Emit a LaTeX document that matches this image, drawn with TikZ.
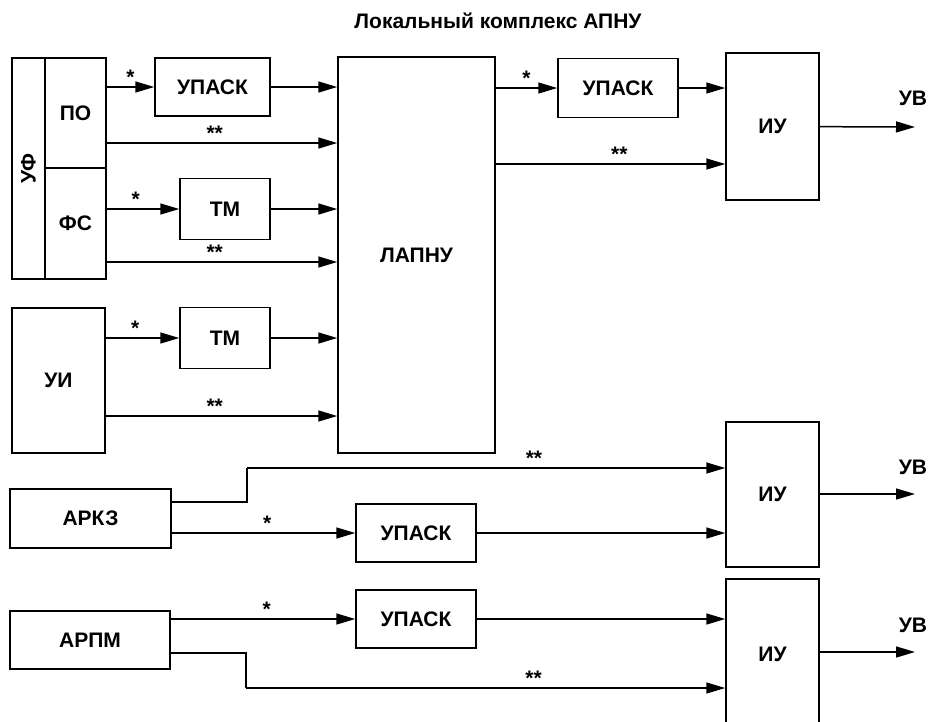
\documentclass[tikz,border=0pt]{standalone}
\usepackage{fontspec}
\setmainfont{Liberation Sans}
\usetikzlibrary{arrows.meta}

\tikzset{
  blk/.style={draw, line width=1.5pt, inner sep=0pt, align=center},
  arr/.style={line width=1.5pt, -{Triangle[length=19pt,width=11pt]}},
  ln/.style={line width=1.5pt},
  starlbl/.style={above, inner sep=2pt}
}

\begin{document}
\begin{tikzpicture}[x=1pt, y=-1pt, font=\bfseries\fontsize{21}{25}\selectfont]
	\useasboundingbox (0,0) rectangle (930,721);
	\node (title) at (498,21) {Локальный комплекс АПНУ};

	% left column
	\node (uf) at (28.5,168.5) [blk, rotate=90, minimum width=221pt, minimum height=33pt] {УФ};
	\node (po) at (75.5,113) [blk, minimum width=61pt, minimum height=110pt] {ПО};
	\node (fs) at (75.5,223.5) [blk, minimum width=61pt, minimum height=111pt] {ФС};
	\node (ui) at (58.5,380.5) [blk, minimum width=93pt, minimum height=145pt] {УИ};
	\node (arkz) at (90.5,518.5) [blk, minimum width=161pt, minimum height=59pt] {АРКЗ};
	\node (arpm) at (90,640) [blk, minimum width=160pt, minimum height=58pt] {АРПМ};

	% middle column
	\node (upask1) at (212.5,87) [blk, minimum width=115pt, minimum height=58pt] {УПАСК};
	\node (tm1) at (225,209) [blk, minimum width=90pt, minimum height=61pt] {ТМ};
	\node (tm2) at (225,338) [blk, minimum width=90pt, minimum height=61pt] {ТМ};
	\node (lapnu) at (416.5,255) [blk, minimum width=157pt, minimum height=396pt] {ЛАПНУ};
	\node (upask3) at (416,533) [blk, minimum width=120pt, minimum height=58pt] {УПАСК};
	\node (upask4) at (416,619) [blk, minimum width=120pt, minimum height=58pt] {УПАСК};

	% right column
	\node (upask2) at (618,88) [blk, minimum width=120pt, minimum height=59pt] {УПАСК};
	\node (iu1) at (772.5,126.5) [blk, minimum width=93pt, minimum height=147pt] {ИУ};
	\node (iu2) at (772.5,494.5) [blk, minimum width=93pt, minimum height=145pt] {ИУ};
	\node (iu3) at (772.5,654) [blk, minimum width=93pt, minimum height=150pt] {ИУ};

	\node (uv1) at (913,98) {УВ};
	\node (uv2) at (913,467) {УВ};
	\node (uv3) at (913,625) {УВ};

	\coordinate (po2) at (106,143);
	\coordinate (fs2) at (106,262);
	\coordinate (ui2) at (106,416);
	\coordinate (lap2) at (495,164);
	\coordinate (arkz2) at (171,502);
	\coordinate (k1) at (247,468);
	\coordinate (arpm2) at (170,653);
	\coordinate (k2) at (246,688);
	\coordinate (out1) at (915,127);
	\coordinate (out2) at (915,494);
	\coordinate (out3) at (915,652);

	% inputs of LAPNU
	\draw[arr] (po.east |- upask1) -- node[starlbl]{*} (upask1);
	\draw[arr] (upask1) -- (lapnu.west |- upask1);
	\draw[arr] (po2) -- node[starlbl, pos=0.47]{**} (po2 -| lapnu.west);
	\draw[arr] (fs.east |- tm1) -- node[starlbl, pos=0.4]{*} (tm1);
	\draw[arr] (tm1) -- (lapnu.west |- tm1);
	\draw[arr] (fs2) -- node[starlbl, pos=0.47]{**} (fs2 -| lapnu.west);
	\draw[arr] (ui.east |- tm2) -- node[starlbl, pos=0.4]{*} (tm2);
	\draw[arr] (tm2) -- (lapnu.west |- tm2);
	\draw[arr] (ui2) -- node[starlbl, pos=0.47]{**} (ui2 -| lapnu.west);

	% outputs of LAPNU
	\draw[arr] (lapnu.east |- upask2) -- node[starlbl]{*} (upask2);
	\draw[arr] (upask2) -- (iu1.west |- upask2);
	\draw[arr] (lap2) -- node[starlbl, pos=0.54]{**} (lap2 -| iu1.west);
	\draw[arr] (iu1) -- (out1);

	% ARKZ
	\draw[ln] (arkz2) -| (k1);
	\draw[arr] (k1) -- node[starlbl, pos=0.6]{**} (k1 -| iu2.west);
	\draw[arr] (arkz.east |- upask3) -- node[starlbl, pos=0.52]{*} (upask3);
	\draw[arr] (upask3) -- (iu2.west |- upask3);
	\draw[arr] (iu2.east |- out2) -- (out2);

	% ARPM
	\draw[arr] (arpm.east |- upask4) -- node[starlbl, pos=0.52]{*} (upask4);
	\draw[arr] (upask4) -- (iu3.west |- upask4);
	\draw[ln] (arpm2) -| (k2);
	\draw[arr] (k2) -- node[starlbl, pos=0.6]{**} (k2 -| iu3.west);
	\draw[arr] (iu3.east |- out3) -- (out3);
\end{tikzpicture}
\end{document}
